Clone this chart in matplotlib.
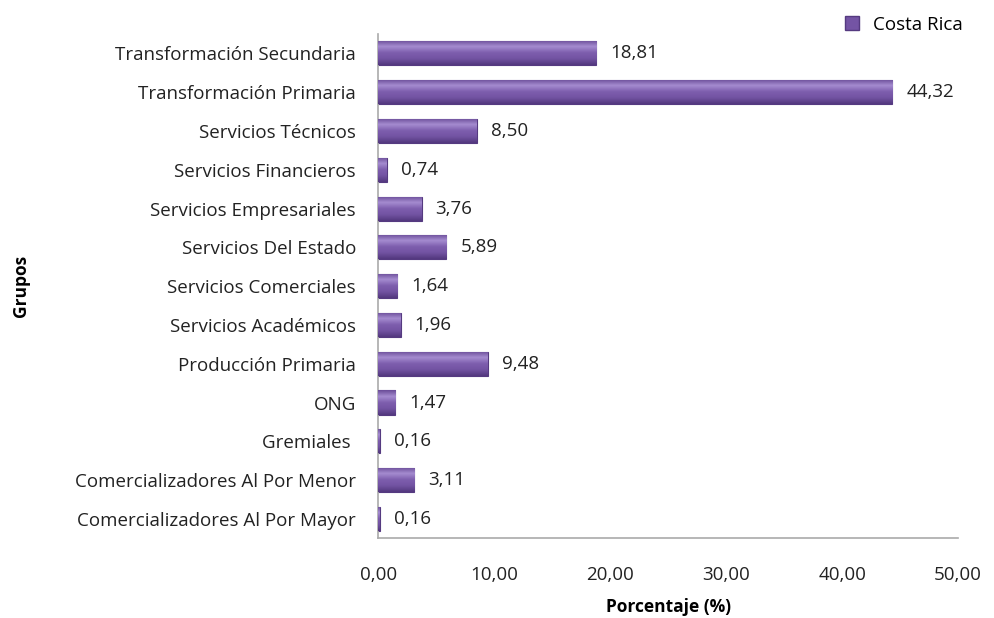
import numpy as np
import matplotlib
matplotlib.use("Agg")
import matplotlib.pyplot as plt
from matplotlib.colors import LinearSegmentedColormap
from matplotlib.lines import Line2D

plt.rcParams['font.family'] = ['Open Sans', 'DejaVu Sans']

# data, top to bottom as shown
grupos = ["Transformación Secundaria", "Transformación Primaria", "Servicios Técnicos",
          "Servicios Financieros", "Servicios Empresariales", "Servicios Del Estado",
          "Servicios Comerciales", "Servicios Académicos", "Producción Primaria",
          "ONG", "Gremiales ", "Comercializadores Al Por Menor",
          "Comercializadores Al Por Mayor"]
porcentaje = [18.81, 44.32, 8.50, 0.74, 3.76, 5.89, 1.64, 1.96, 9.48, 1.47, 0.16, 3.11, 0.16]
serie = "Costa Rica"
xticks = [0, 10, 20, 30, 40, 50]

fig = plt.figure(figsize=(9.95, 6.18), dpi=100)
ax = fig.add_axes([0.380, 0.129, 0.583, 0.816])

ypos = np.arange(len(grupos))[::-1]
h = 0.62
# vertical gradient to mimic the bevelled bars
grad = LinearSegmentedColormap.from_list('bevel', ['#53387e', '#7253a2', '#7e5eae', '#a58cd0', '#6a4c98'], 256)
g = np.linspace(0, 1, 64).reshape(-1, 1)
bars = ax.barh(ypos, porcentaje, height=h, color='#7454a4', edgecolor='#553a80', linewidth=0.8, zorder=2)
for b in bars:
    x0, y0, w, hh = b.get_x(), b.get_y(), b.get_width(), b.get_height()
    im = ax.imshow(g, cmap=grad, aspect='auto', extent=[x0, x0 + w, y0, y0 + hh],
                   origin='lower', zorder=3, interpolation='bilinear')
    im.set_clip_path(b)

fs = 13.5
for y, v in zip(ypos, porcentaje):
    ax.text(v + 1.2, y, f"{v:.2f}".replace('.', ','), va='center', ha='left', fontsize=fs, color='#222222')

ax.set_xlim(0, 50)
ax.set_ylim(-0.5, len(grupos) - 0.5)
ax.set_yticks(ypos)
ax.set_yticklabels(grupos, fontsize=fs, color='#222222')
ax.set_xticks(xticks)
ax.set_xticklabels([f"{t:.2f}".replace('.', ',') for t in xticks], fontsize=fs, color='#222222')
ax.tick_params(axis='both', length=0)
ax.tick_params(axis='x', pad=20)
ax.tick_params(axis='y', pad=16)
for s in ['top', 'right']:
    ax.spines[s].set_visible(False)
for s in ['left', 'bottom']:
    ax.spines[s].set_color('#aaaaaa')
    ax.spines[s].set_linewidth(1.2)

ax.set_xlabel("Porcentaje (%)", fontsize=12.5, fontweight='bold', labelpad=10)
ax.set_ylabel("Grupos", fontsize=12.5, fontweight='bold')
ax.yaxis.set_label_coords(-0.60, 0.5)

handle = Line2D([], [], marker='s', linestyle='', markersize=10, markerfacecolor='#7454a4',
                markeredgecolor='#553a80')
ax.legend([handle], [serie], loc='lower right', bbox_to_anchor=(1.02, 0.985), frameon=False,
          fontsize=fs, handletextpad=0.1, borderaxespad=0)

fig.savefig("out.png", dpi=100)
